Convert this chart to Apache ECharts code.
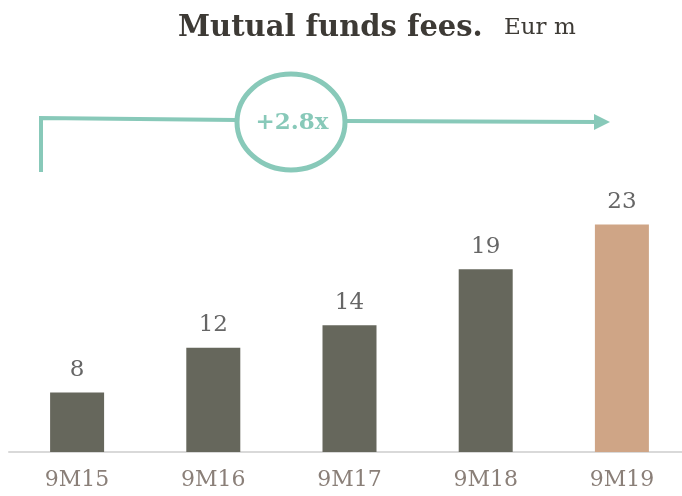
<!DOCTYPE html>
<html>
<head>
<meta charset="utf-8">
<script src="https://cdn.jsdelivr.net/npm/echarts@6/dist/echarts.min.js"></script>
<style>
  html, body { margin: 0; padding: 0; background: #fff; overflow: hidden; }
  #chart { width: 700px; height: 496px; }
</style>
</head>
<body>
<div id="chart"></div>
<script>
  const categories = ['9M15', '9M16', '9M17', '9M18', '9M19']
  const fees = [8, 12, 14, 19, 23]
  const growthLabel = '+2.8x'

  const barColor = '#66675c'
  const lastColor = '#cfa586'
  const teal = '#88c9b9'

  // the plot area runs a little past the right edge of the window
  const chart = echarts.init(document.getElementById('chart'))
  const option = {
    animation: false,
    title: {
      text: 'Mutual funds fees.',
      left: 173,
      top: 9,
      textStyle: {
        fontFamily: 'DejaVu Serif',
        fontWeight: 'bold',
        fontSize: 29,
        color: '#3d3a35'
      }
    },
    grid: { left: 9, right: 10, top: 146, bottom: 44 },
    xAxis: {
      type: 'category',
      data: categories,
      axisTick: { show: false },
      axisLine: { lineStyle: { color: '#d9d9d9', width: 2 } },
      axisLabel: {
        margin: 17,
        fontFamily: 'DejaVu Serif',
        fontSize: 22,
        color: '#8a7f78'
      }
    },
    yAxis: {
      type: 'value',
      min: 2.7,
      max: 30,
      show: false
    },
    series: [{
      type: 'bar',
      barWidth: 54,
      data: fees.map((v, i) => ({
        value: v,
        itemStyle: { color: i === fees.length - 1 ? lastColor : barColor }
      })),
      label: {
        show: true,
        position: 'top',
        distance: 11,
        fontFamily: 'DejaVu Serif',
        fontSize: 23,
        color: '#666'
      }
    }],
    graphic: [
      {
        type: 'text',
        left: 504, top: 17,
        style: { text: 'Eur m', font: '23px "DejaVu Serif"', fill: '#3d3a35' }
      },
      {
        type: 'polyline',
        shape: { points: [[41, 172], [41, 118], [237, 120]] },
        style: { stroke: teal, lineWidth: 4, fill: null }
      },
      {
        type: 'line',
        shape: { x1: 347, y1: 121, x2: 598, y2: 122 },
        style: { stroke: teal, lineWidth: 4 }
      },
      {
        type: 'polygon',
        shape: { points: [[594, 114], [610, 122], [594, 130]] },
        style: { fill: teal }
      },
      {
        type: 'ellipse',
        shape: { cx: 291, cy: 122, rx: 54, ry: 48 },
        style: { stroke: teal, lineWidth: 5, fill: '#fff' }
      },
      {
        type: 'text',
        x: 292, y: 123,
        style: {
          text: growthLabel,
          font: 'bold 23px "DejaVu Serif"',
          fill: teal,
          align: 'center',
          verticalAlign: 'middle'
        }
      }
    ]
  }
  chart.setOption(option)
</script>
</body>
</html>
